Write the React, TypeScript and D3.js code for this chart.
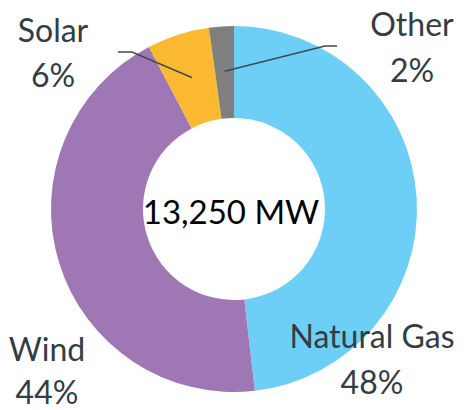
import React from "react";
import * as d3 from "d3";

const categories = ["Natural Gas", "Wind", "Solar", "Other"];
const values = [6385, 5845, 730, 290];
const percentLabels = ["48%", "44%", "6%", "2%"];
const colors = ["#6dcff6", "#a077b5", "#fbb931", "#7f7f7f"];
const totalLabel = "13,250 MW";

const W = 466;
const H = 410;
const cx = 234;
const cy = 209;
const outerR = 183;
const innerR = 91;
const FONT = "Lato, 'Open Sans', sans-serif";
const TEXT_COLOR = "#333d43";

const labelPos: Record<string, { x: number; y1: number; y2: number }> = {
  "Natural Gas": { x: 372, y1: 348, y2: 394 },
  Wind: { x: 47, y1: 361, y2: 404 },
  Solar: { x: 53, y1: 42, y2: 87 },
  Other: { x: 412, y1: 36, y2: 82 },
};

export default function App() {
  const pie = d3
    .pie<number>()
    .sort(null)
    .value((d) => d);
  const arcs = pie(values);
  const arc = d3.arc<d3.PieArcDatum<number>>().innerRadius(innerR).outerRadius(outerR);

  const leaderArc = d3.arc<d3.PieArcDatum<number>>().innerRadius(138).outerRadius(138);
  const solarC = leaderArc.centroid(arcs[2]);
  const otherC = leaderArc.centroid(arcs[3]);

  return (
    <svg
      width={W}
      height={H}
      style={{ position: "absolute", left: 0, top: 0, background: "#fff" }}
    >
      <g transform={`translate(${cx},${cy})`}>
        {arcs.map((a, i) => (
          <path key={categories[i]} d={arc(a) || ""} fill={colors[i]} />
        ))}
      </g>
      <g fill="none" stroke="#3f4a50" strokeWidth={1.6}>
        <polyline points={`118,52 132,52 ${cx + solarC[0]},${cy + solarC[1]}`} />
        <polyline points={`337,46 325,46 ${cx + otherC[0]},${cy + otherC[1]}`} />
      </g>
      {categories.map((c, i) => (
        <g key={c} fontFamily={FONT} fontSize={32} fill={TEXT_COLOR} textAnchor="middle">
          <text x={labelPos[c].x} y={labelPos[c].y1}>{c}</text>
          <text x={labelPos[c].x} y={labelPos[c].y2}>{percentLabels[i]}</text>
        </g>
      ))}
      <text
        x={cx - 3}
        y={224}
        textAnchor="middle"
        fontFamily={FONT}
        fontSize={33}
        fill="#000"
      >
        {totalLabel}
      </text>
    </svg>
  );
}
